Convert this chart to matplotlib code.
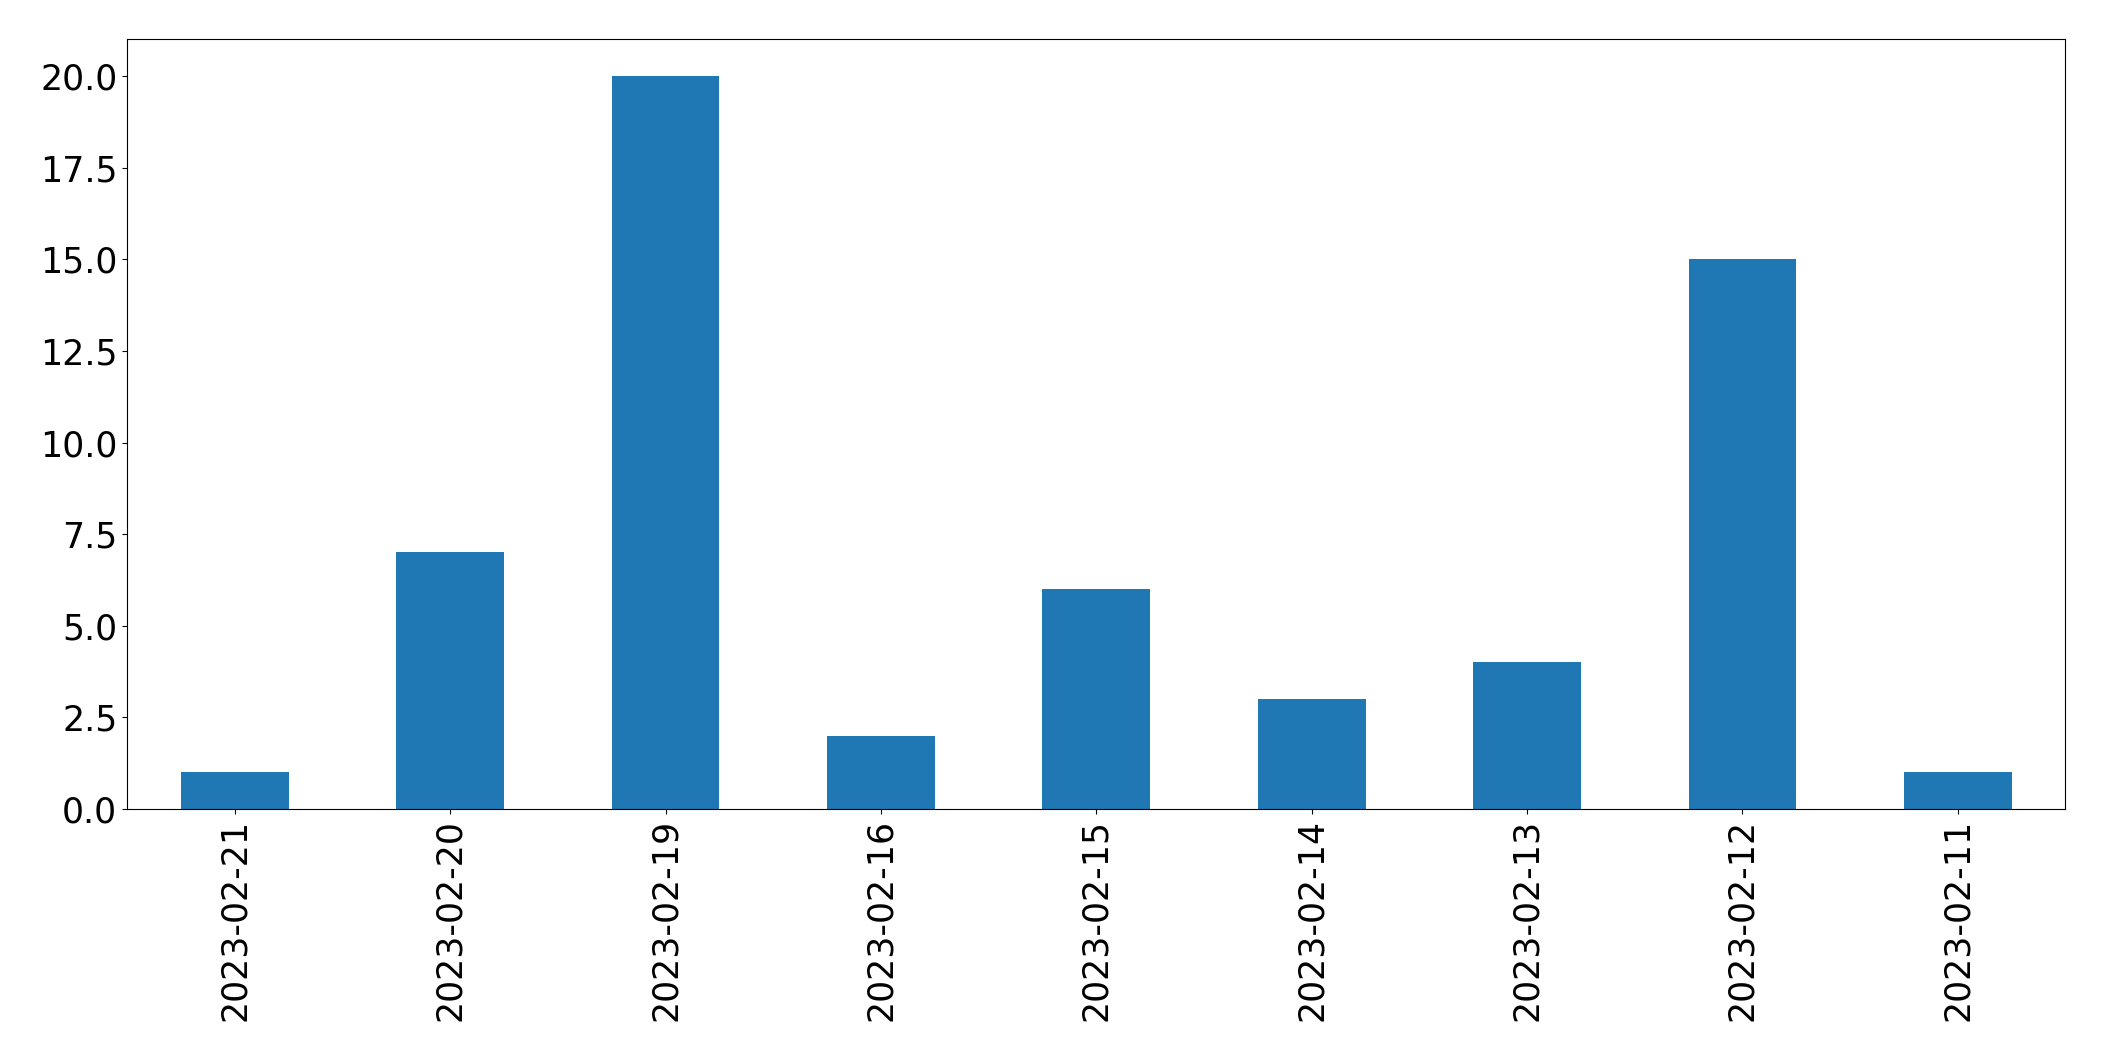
import numpy as np
import matplotlib
matplotlib.use("Agg")
import matplotlib.pyplot as plt

# counts per day, in the order shown on the chart
dates = ["2023-02-21", "2023-02-20", "2023-02-19", "2023-02-16", "2023-02-15",
         "2023-02-14", "2023-02-13", "2023-02-12", "2023-02-11"]
counts = [1, 7, 20, 2, 6, 3, 4, 15, 1]

fig = plt.figure(figsize=(21.04, 10.61), dpi=100)
ax = fig.add_axes([0.0604, 0.2375, 0.9213, 0.7253])

x = np.arange(len(dates))
ax.bar(x, counts, width=0.5, color="#1f77b4")
ax.set_xlim(-0.5, len(dates) - 0.5)
ax.set_xticks(x)
ax.set_xticklabels(dates, rotation=90)
ax.tick_params(axis="both", labelsize=25)

fig.savefig("out.png", dpi=100)
